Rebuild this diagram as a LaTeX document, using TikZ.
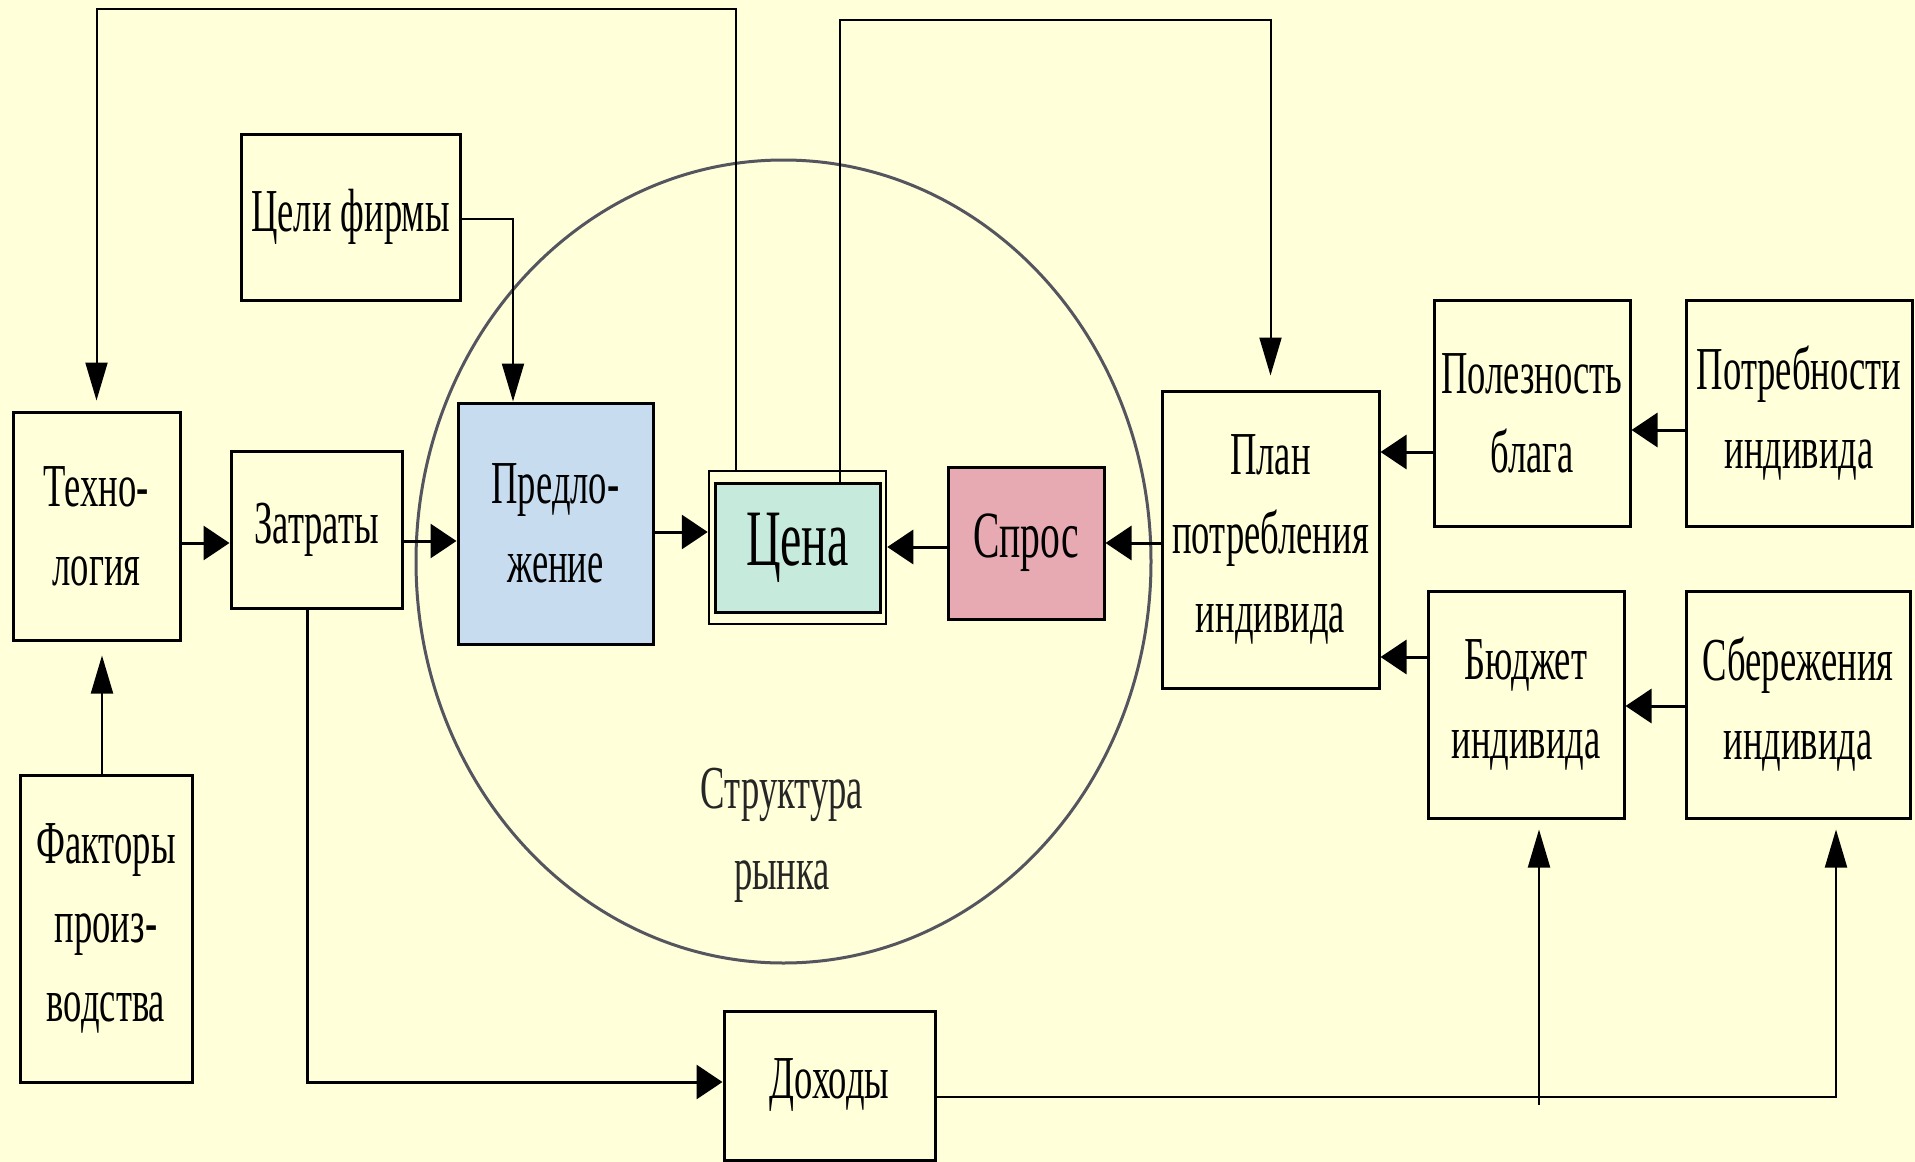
\documentclass[tikz,border=0pt]{standalone}
\usepackage{fontspec}
\setmainfont{Liberation Serif}[FakeStretch=0.6]
\usetikzlibrary{arrows.meta,positioning}

\definecolor{bgyellow}{RGB}{255,255,218}
\definecolor{supplyblue}{RGB}{200,220,240}
\definecolor{pricegreen}{RGB}{198,234,220}
\definecolor{demandpink}{RGB}{232,170,178}
\definecolor{ringgray}{RGB}{85,85,95}

\tikzset{
  block/.style={draw, line width=3pt, inner sep=0pt, align=center,
    font=\fontsize{61}{79}\selectfont},
  harr/.style={line width=3pt, -{Triangle[length=26pt,width=34pt]}},
  varr/.style={line width=2pt, -{Triangle[length=38pt,width=22pt]}},
}

\begin{document}
\begin{tikzpicture}[x=1pt,y=-1pt]
  \fill[bgyellow] (0,0) rectangle (1915,1162);
  \useasboundingbox (0,0) rectangle (1915,1162);

  % market ring
  \draw[ringgray, line width=3pt] (783.5,561.5) ellipse [x radius=367.5pt, y radius=401.5pt];
  \node[align=center, text=black!85, font=\fontsize{61}{81}\selectfont] (market) at (782,835) {Структура\\рынка};

  % firm side
  \node[block, minimum width=167pt, minimum height=228pt] (tech) at (96.5,526) {Техно-\\логия};
  \node[block, minimum width=171pt, minimum height=157pt] (zatr) at (316.5,529.5) {Затраты};
  \node[block, minimum width=219pt, minimum height=166pt] (goals) at (350.5,217) {Цели фирмы};
  \node[block, minimum width=172pt, minimum height=307pt] (factors) at (106,928.5) {Факторы\\произ-\\водства};
  \node[block, fill=supplyblue, minimum width=195pt, minimum height=241pt] (supply) at (555.5,523.5) {Предло-\\жение};

  % price, double frame
  \node[draw, line width=2.5pt, minimum width=177pt, minimum height=153pt] (priceo) at (797.5,547.5) {};
  \node[block, fill=pricegreen, minimum width=165pt, minimum height=129pt,
    font=\fontsize{80}{90}\selectfont] (price) at (797.5,547.5) {Цена};
  \node[block, fill=demandpink, minimum width=156pt, minimum height=152pt,
    font=\fontsize{66}{80}\selectfont] (demand) at (1026,543) {Спрос};

  % consumer side
  \node[block, minimum width=217pt, minimum height=297pt] (plan) at (1270.5,539.5) {План\\потребления\\индивида};
  \node[block, minimum width=196pt, minimum height=226pt] (util) at (1532,413) {Полезность\\блага};
  \node[block, minimum width=226pt, minimum height=226pt] (needs) at (1799,413) {Потребности\\индивида};
  \node[block, minimum width=196pt, minimum height=227pt] (budget) at (1526,704.5) {Бюджет\\индивида};
  \node[block, minimum width=224pt, minimum height=227pt] (savings) at (1798,704.5) {Сбережения\\индивида};
  \node[block, minimum width=211pt, minimum height=149pt] (income) at (829.5,1085.5) {Доходы};

  % rows and columns of the connectors
  \coordinate (rA) at (0,543);
  \coordinate (rB) at (0,541);
  \coordinate (rC) at (0,532);
  \coordinate (rD) at (0,547);
  \coordinate (rE) at (0,452);
  \coordinate (rF) at (0,430);
  \coordinate (rG) at (0,657);
  \coordinate (rH) at (0,706);
  \coordinate (gbend) at (513,219);
  \coordinate (loopA) at (736,9);
  \coordinate (loopB) at (840,20);
  \coordinate (fcol) at (102,0);
  \coordinate (zcol) at (307,1082);
  \coordinate (inrow) at (1836,1097);
  \coordinate (bcol) at (1539,1105);

  \draw[harr] (tech.east |- rA) -- (zatr.west |- rA);
  \draw[harr] (zatr.east |- rB) -- (supply.west |- rB);
  \draw[harr] (supply.east |- rC) -- (priceo.west |- rC);
  \draw[harr] (demand.west |- rD) -- (priceo.east |- rD);
  \draw[harr] (plan.west |- rA) -- (demand.east |- rA);
  \draw[harr] (util.west |- rE) -- (plan.east |- rE);
  \draw[harr] (needs.west |- rF) -- (util.east |- rF);
  \draw[harr] (budget.west |- rG) -- (plan.east |- rG);
  \draw[harr] (savings.west |- rH) -- (budget.east |- rH);

  \draw[varr] (goals.east |- gbend) -| (gbend |- supply.north);
  \draw[varr, shorten >=10pt] (loopA |- priceo.north) -- (loopA) -| (tech.north);
  \draw[varr, shorten >=14pt] (loopB |- price.north) -- (loopB) -| (plan.north);
  \draw[varr, shorten >=14pt] (factors.north -| fcol) -- (tech.south -| fcol);
  \draw[harr] (zatr.south -| zcol) |- (income.west |- zcol);
  \draw[varr, shorten >=10pt] (income.east |- inrow) -| (savings.south -| inrow);
  \draw[varr, shorten >=10pt] (bcol) -- (budget.south -| bcol);
\end{tikzpicture}
\end{document}
